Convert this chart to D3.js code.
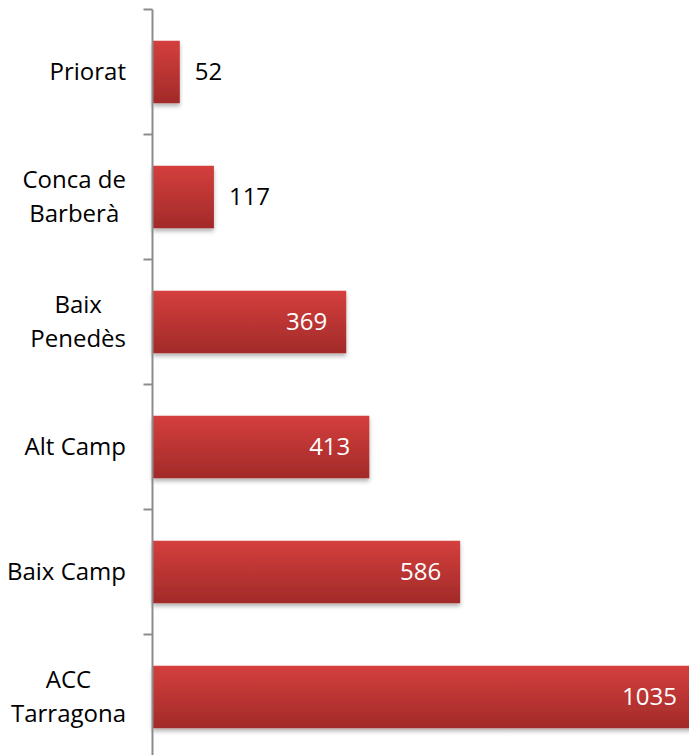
<!DOCTYPE html>
<html>
<head>
<meta charset="utf-8">
<script src="https://cdn.jsdelivr.net/npm/d3@7"></script>
<style>
  html, body { margin: 0; padding: 0; background: #fff; }
  svg { display: block; }
</style>
</head>
<body>
<div id="chart"></div>
<script>
(function() {

    // categories (lines of each label) and values, top to bottom
    var categories = ["Priorat", "Conca de Barberà", "Baix Penedès", "Alt Camp", "Baix Camp", "ACC Tarragona"];
    var labelLines = [["Priorat"], ["Conca de", "Barberà"], ["Baix", "Penedès"], ["Alt Camp"], ["Baix Camp"], ["ACC", "Tarragona"]];
    var values = [52, 117, 369, 413, 586, 1035];

    var width = 689, height = 755;
    var axisX = 152.5;

    var svg = d3.select("#chart")
        .append("svg")
        .attr("width", width)
        .attr("height", height)
        .style("font-family", "'Open Sans', sans-serif");

    var defs = svg.append("defs");
    var grad = defs.append("linearGradient")
        .attr("id", "barGrad")
        .attr("x1", 0).attr("y1", 0).attr("x2", 0).attr("y2", 1);
    grad.append("stop").attr("offset", "0%").attr("stop-color", "#d43f3d");
    grad.append("stop").attr("offset", "100%").attr("stop-color", "#a22a29");

    var shadow = defs.append("filter")
        .attr("id", "shadow")
        .attr("x", "-10%").attr("y", "-10%")
        .attr("width", "120%").attr("height", "140%");
    shadow.append("feDropShadow")
        .attr("dx", 0).attr("dy", 3)
        .attr("stdDeviation", 2)
        .attr("flood-color", "#000")
        .attr("flood-opacity", 0.3);

    // scales
    var y = d3.scaleBand()
        .domain(categories)
        .range([9.5, 759.5])
        .paddingInner(0.5)
        .paddingOuter(0.25);

    var x = d3.scaleLinear()
        .domain([0, 1000])
        .range([axisX, axisX + 525]);

    // bars
    svg.append("g")
        .selectAll("rect")
        .data(values)
        .enter().append("rect")
        .attr("x", x(0))
        .attr("y", function(d, i) { return y(categories[i]); })
        .attr("width", function(d) { return x(d) - x(0); })
        .attr("height", y.bandwidth())
        .attr("fill", "url(#barGrad)")
        .attr("filter", "url(#shadow)");

    // axis with ticks between categories
    var step = y.step();
    var tickYs = d3.range(categories.length + 1).map(function(i) { return 9.5 + i * step; });
    var axis = svg.append("g").attr("stroke", "#8c8c8c").attr("stroke-width", 2);
    axis.append("line")
        .attr("x1", axisX).attr("x2", axisX)
        .attr("y1", 9.5).attr("y2", height);
    axis.selectAll("line.tick")
        .data(tickYs)
        .enter().append("line")
        .attr("class", "tick")
        .attr("x1", axisX - 9).attr("x2", axisX)
        .attr("y1", function(d) { return d; })
        .attr("y2", function(d) { return d; });

    // category labels: block right-aligned, lines centered within
    var fontSize = 24, lineH = 34, labelRight = 126;
    var labels = svg.append("g")
        .selectAll("text")
        .data(categories)
        .enter().append("text")
        .attr("font-size", fontSize)
        .attr("fill", "#000")
        .attr("text-anchor", "middle");

    labels.each(function(c, i) {
        var t = d3.select(this);
        var lines = labelLines[i];
        var cy = y(c) + y.bandwidth() / 2;
        var top = cy - (lines.length - 1) * lineH / 2;
        lines.forEach(function(l, j) {
            t.append("tspan")
                .attr("y", top + j * lineH)
                .attr("dy", "0.35em")
                .text(l);
        });
        var maxW = 0;
        t.selectAll("tspan").each(function() {
            maxW = Math.max(maxW, this.getComputedTextLength());
        });
        t.selectAll("tspan").attr("x", labelRight - maxW / 2);
    });

    // value labels
    svg.append("g")
        .selectAll("text")
        .data(values)
        .enter().append("text")
        .attr("font-size", fontSize)
        .attr("dy", "0.35em")
        .attr("y", function(d, i) { return y(categories[i]) + y.bandwidth() / 2; })
        .attr("x", function(d) { return x(d) - x(0) > 100 ? x(d) - 19 : x(d) + 15; })
        .attr("text-anchor", function(d) { return x(d) - x(0) > 100 ? "end" : "start"; })
        .attr("fill", function(d) { return x(d) - x(0) > 100 ? "#fff" : "#000"; })
        .text(function(d) { return d; });

})();
</script>
</body>
</html>
